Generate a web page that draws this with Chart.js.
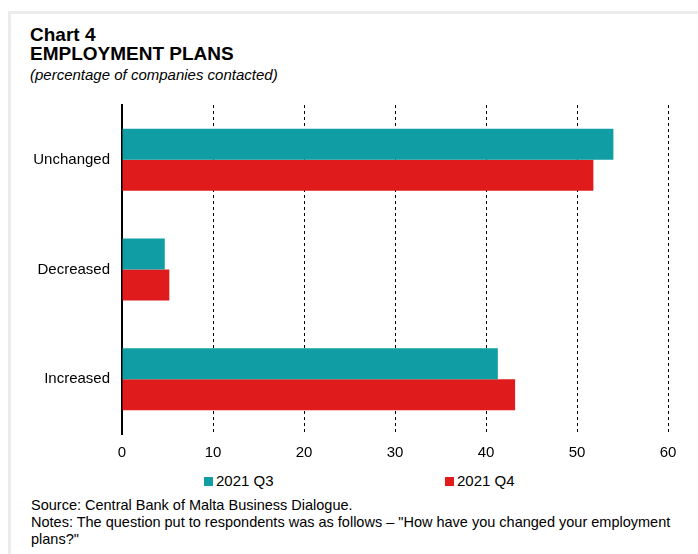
<!DOCTYPE html>
<html>
<head>
<meta charset="utf-8">
<script src="https://cdn.jsdelivr.net/npm/chart.js@4"></script>
<style>
  body { margin: 0; background: #fff; font-family: "Liberation Sans", Arial, sans-serif; color: #000; }
  .frame { position: absolute; left: 8px; top: 11px; width: 690px; height: 543px;
           border-top: 3px solid #ececec; border-left: 3px solid #ececec; }
  .title { position: absolute; left: 30px; top: 25px; font-weight: bold; font-size: 19px; line-height: 19px; }
  .sub { position: absolute; left: 30px; top: 66px; font-style: italic; font-size: 15px; }
  .wrap { position: absolute; left: 0; top: 84px; width: 698px; height: 386px; }
  .legend { position: absolute; top: 472px; font-size: 15px; }
  .legend span.box { display: inline-block; width: 9px; height: 9px; margin-right: 3px; vertical-align: 0px; }
  .foot { position: absolute; left: 31px; top: 497px; font-size: 14.5px; line-height: 17px; width: 655px; }
</style>
</head>
<body>
<div class="frame"></div>
<div class="title">Chart 4<br>EMPLOYMENT PLANS</div>
<div class="sub">(percentage of companies contacted)</div>
<div class="wrap"><canvas id="chart"></canvas></div>
<div id="legend"></div>
<div class="foot">Source: Central Bank of Malta Business Dialogue.<br>Notes: The question put to respondents was as follows – "How have you changed your employment plans?"</div>

<script>
// Employment plans
const categories = ["Unchanged", "Decreased", "Increased"];
const seriesNames = ["2021 Q3", "2021 Q4"];
const q3Values = [54.0, 4.7, 41.3];
const q4Values = [51.8, 5.2, 43.2];
const seriesColors = ["#109ea4", "#e01b1b"];
const xTicks = [0, 10, 20, 30, 40, 50, 60];

const font = { family: "'Liberation Sans', Arial, sans-serif", size: 15 };

let ctx = document.getElementById("chart").getContext("2d");
let chart = new Chart(ctx, {
    type: "bar",
    data: {
        labels: categories,
        datasets: [
            { label: seriesNames[0], data: q3Values, backgroundColor: seriesColors[0] },
            { label: seriesNames[1], data: q4Values, backgroundColor: seriesColors[1] }
        ]
    },
    options: {
        indexAxis: "y",
        responsive: true,
        maintainAspectRatio: false,
        animation: false,
        layout: { padding: { top: 9, right: 30, left: 0, bottom: 0 } },
        datasets: { bar: { barPercentage: 1, categoryPercentage: 0.565 } },
        plugins: { legend: { display: false }, tooltip: { enabled: false } },
        scales: {
            x: {
                min: 0, max: 60,
                afterBuildTicks: (scale) => { scale.ticks = xTicks.map(v => ({ value: v })); },
                afterFit: (scale) => { scale.height = 36; },
                ticks: { color: "#000", font: font, padding: 10 },
                border: { display: false, dash: [3, 3] },
                grid: {
                    drawTicks: false,
                    color: (c) => c.tick && c.tick.value === 0 ? "rgba(0,0,0,0)" : "#000",
                    lineWidth: 1
                }
            },
            y: {
                afterFit: (scale) => { scale.width = 122; },
                ticks: { color: "#000", font: font, padding: 12 },
                grid: { display: false, drawTicks: false },
                border: { color: "#000", width: 2 }
            }
        }
    }
});

// legend drawn as html, items spaced like the original
let legendPos = [204, 445];
let legendDiv = document.getElementById("legend");
seriesNames.forEach((name, i) => {
    let item = document.createElement("div");
    item.className = "legend";
    item.style.left = legendPos[i] + "px";
    item.innerHTML = `<span class="box" style="background:${seriesColors[i]}"></span>${name}`;
    legendDiv.appendChild(item);
});
</script>
</body>
</html>
